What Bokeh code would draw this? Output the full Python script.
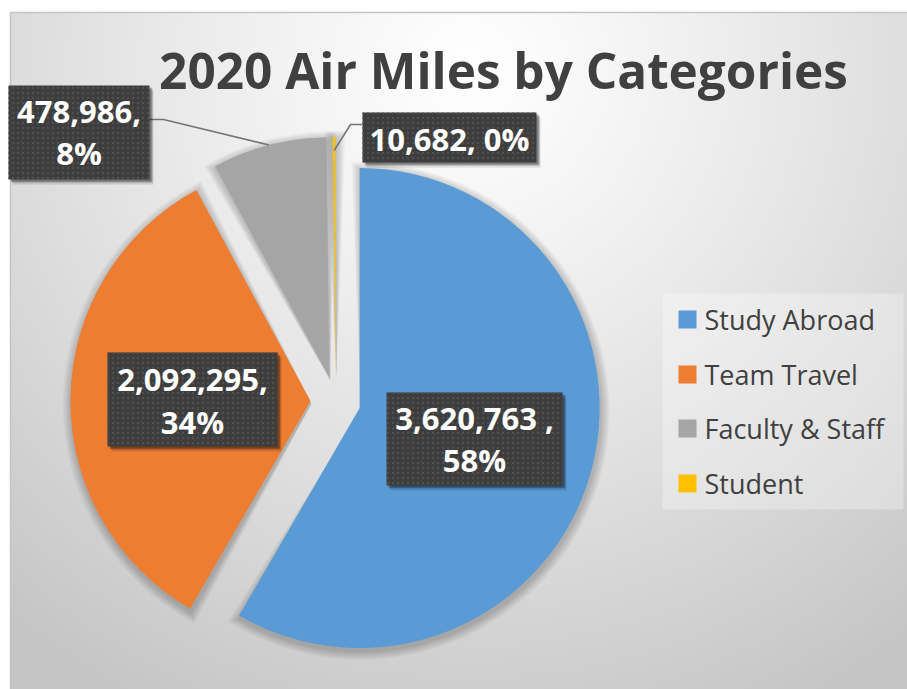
import numpy as np
from bokeh.plotting import figure
from bokeh.models import Range1d
from bokeh.core.properties import value
from bokeh.embed import file_html
from bokeh.resources import INLINE

# ---------------- data ----------------
title = "2020 Air Miles by Categories"
categories = ["Study Abroad", "Team Travel", "Faculty & Staff", "Student"]
miles = [3620763, 2092295, 478986, 10682]
label_line1 = ["3,620,763 ,", "2,092,295,", "478,986,", "10,682, 0%"]
label_line2 = ["58%", "34%", "8%", ""]
colors = ["#5B9BD5", "#ED7D31", "#A5A5A5", "#FFC000"]

# ---------------- layout (screen pixels) ----------------
W, H = 907, 689
FONT = value("Open Sans")
TXT = "#404040"

p = figure(width=W, height=H, x_range=Range1d(0, W), y_range=Range1d(-H, 0),
           output_backend="svg", toolbar_location=None, min_border=0,
           x_axis_type=None, y_axis_type=None)
p.grid.visible = False
p.outline_line_color = None
p.background_fill_color = "white"
p.border_fill_color = "white"

def sy(v):
    return -v

# background radial gradient
x0, y0, x1, y1 = 10, 12, 907, 689
step = 3
nx, ny = (x1 - x0) // step, (y1 - y0) // step
xs = x0 + (np.arange(nx) + 0.5) * (x1 - x0) / nx
ys = y1 - (np.arange(ny) + 0.5) * (y1 - y0) / ny
X, Y = np.meshgrid(xs, ys)
d = np.sqrt((X - 470) ** 2 + ((Y - 70) * 1.0) ** 2)
t = np.clip(d / 720, 0, 1) ** 1.15
g = (255 - 58 * t).astype(np.uint8)
img = np.empty((ny, nx), dtype=np.uint32)
view = img.view(dtype=np.uint8).reshape((ny, nx, 4))
view[..., 0] = g
view[..., 1] = g
view[..., 2] = g
view[..., 3] = 255
p.image_rgba(image=[img], x=x0, y=sy(y1), dw=x1 - x0, dh=y1 - y0)
p.quad(left=[x0], right=[x1 + 20], top=[sy(y0)], bottom=[sy(y1 + 20)],
       fill_color=None, line_color="#c4c4c4", line_width=1.5)

# ---------------- pie ----------------
total = float(sum(miles))
cum = np.concatenate([[0.0], np.cumsum(miles) / total])
cx, cy, R, D = 335, sy(401), 240, 25

starts, ends, ox, oy = [], [], [], []
for i in range(len(miles)):
    a, b = cum[i], cum[i + 1]
    s = np.pi / 2 - 2 * np.pi * b
    e = np.pi / 2 - 2 * np.pi * a
    m = (s + e) / 2
    starts.append(s)
    ends.append(e)
    ox.append(cx + D * np.cos(m))
    oy.append(cy + D * np.sin(m))

# soft shadows
for k in range(1, 10):
    dl = k / R
    p.wedge(x=[x + 1 for x in ox], y=[y - 3 for y in oy], radius=R + k,
            start_angle=[s - dl for s in starts], end_angle=[e + dl for e in ends],
            fill_color="black", fill_alpha=0.022, line_color=None, radius_units="screen")

p.wedge(x=ox, y=oy, radius=R, start_angle=starts, end_angle=ends,
        fill_color=colors, line_color=None, radius_units="screen")

# ---------------- leader lines ----------------
leaders = {2: [(149, 119), (163, 119)], 3: [(362, 124), (350, 124)]}
anchor_r = {2: R, 3: R - 14}
for i, pts in leaders.items():
    m = (starts[i] + ends[i]) / 2
    axp = ox[i] + anchor_r[i] * np.cos(m)
    ayp = oy[i] + anchor_r[i] * np.sin(m)
    lx = [pt[0] for pt in pts] + [axp]
    ly = [sy(pt[1]) for pt in pts] + [ayp]
    p.line(lx, ly, line_color="#767676", line_width=1.6)

# ---------------- data label boxes ----------------
boxes = [(386, 392, 562, 485), (107, 352, 277, 446), (8, 85, 149, 179), (362, 112, 536, 162)]
line_mid = [(417, 459), (379, 421), (111, 152), (138.5, None)]

bl = [b[0] for b in boxes]
bt = [b[1] for b in boxes]
br = [b[2] for b in boxes]
bb = [b[3] for b in boxes]
for dx, dy, al in [(4, 5, 0.12), (3, 3, 0.22), (2, 2, 0.25)]:
    p.quad(left=[v + dx for v in bl], right=[v + dx for v in br],
           top=[sy(v + dy) for v in bt], bottom=[sy(v + dy) for v in bb],
           fill_color="black", fill_alpha=al, line_color=None)
p.quad(left=bl, right=br, top=[sy(v) for v in bt], bottom=[sy(v) for v in bb],
       fill_color="#3d3d3d", line_color=None,
       hatch_pattern="dot", hatch_color="#505050", hatch_scale=5, hatch_weight=1.0)

for i in range(len(miles)):
    xc = (boxes[i][0] + boxes[i][2]) / 2
    m1, m2 = line_mid[i]
    p.text(x=[xc], y=[sy(m1)], text=[label_line1[i]], text_font=FONT, text_font_style="bold",
           text_font_size="31px", text_color="white", text_align="center",
           text_baseline="middle")
    if m2 is not None and label_line2[i]:
        p.text(x=[xc], y=[sy(m2)], text=[label_line2[i]], text_font=FONT, text_font_style="bold",
               text_font_size="31px", text_color="white", text_align="center",
               text_baseline="middle")

# ---------------- title ----------------
p.text(x=[503], y=[sy(69)], text=[title], text_font=FONT, text_font_style="bold",
       text_font_size="49.5px", text_color=TXT, text_align="center", text_baseline="middle")

# ---------------- legend ----------------
p.quad(left=[662], right=[903], top=[sy(293)], bottom=[sy(509)],
       fill_color="white", fill_alpha=0.3, line_color=None)
rows = [319, 374, 428, 483]
p.quad(left=[678] * 4, right=[696] * 4, top=[sy(r - 9) for r in rows],
       bottom=[sy(r + 9) for r in rows], fill_color=colors, line_color=None)
p.text(x=[704] * 4, y=[sy(r) for r in rows], text=categories, text_font=FONT,
       text_font_size="27px", text_color=TXT, text_align="left", text_baseline="middle")

open("out.html", "w").write(file_html(p, INLINE))
